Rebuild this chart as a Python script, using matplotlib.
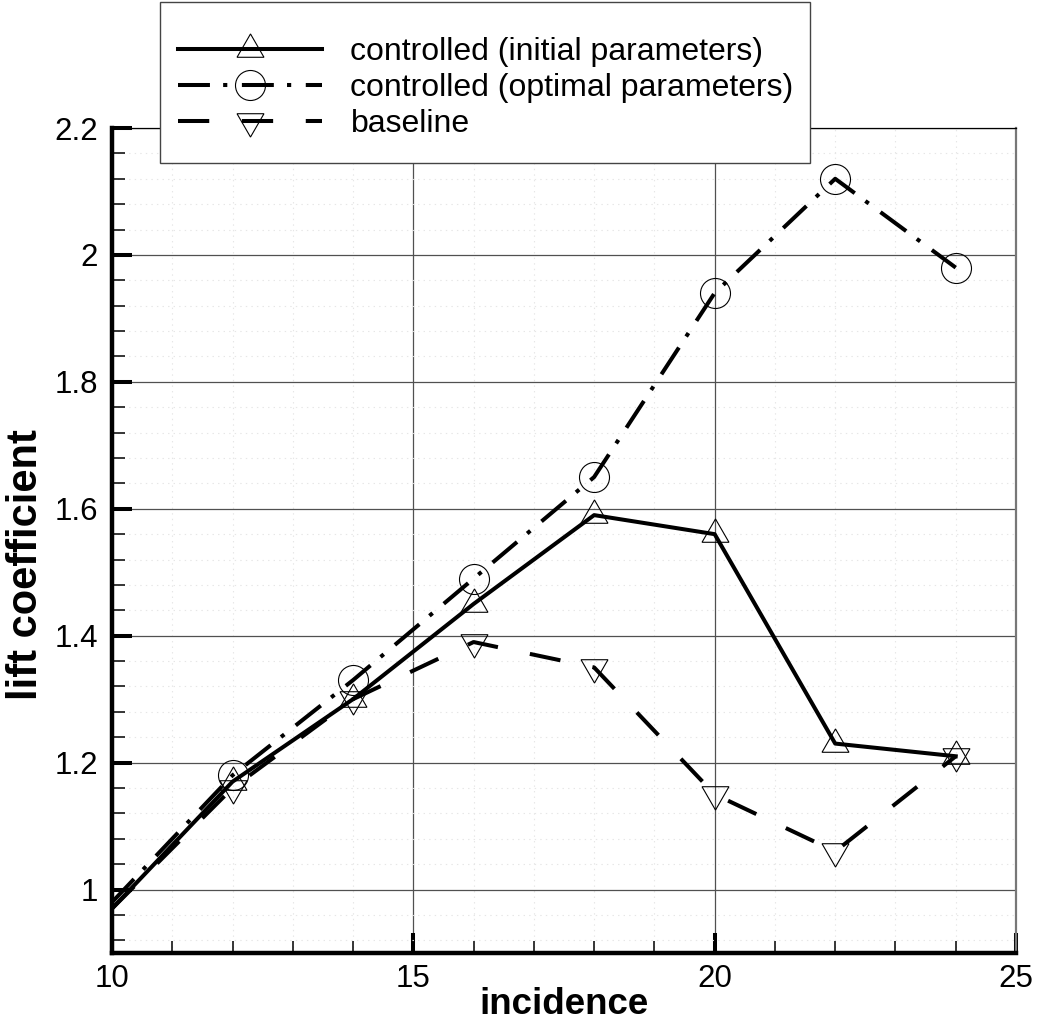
import matplotlib
matplotlib.use("Agg")
import matplotlib.pyplot as plt
from matplotlib.ticker import MultipleLocator, FuncFormatter
from matplotlib.patches import Rectangle

plt.rcParams['font.family'] = ['Liberation Sans', 'DejaVu Sans']
plt.rcParams['lines.scale_dashes'] = False

incidence = [10, 12, 14, 16, 18, 20, 22, 24]
cl_initial = [0.97, 1.17, 1.30, 1.45, 1.59, 1.56, 1.23, 1.21]
cl_optimal = [0.98, 1.18, 1.33, 1.49, 1.65, 1.94, 2.12, 1.98]
cl_baseline = [0.97, 1.16, 1.30, 1.39, 1.35, 1.15, 1.06, 1.21]
labels = ["controlled (initial parameters)",
          "controlled (optimal parameters)",
          "baseline"]

W, H = 1040, 1034
fig = plt.figure(figsize=(W / 100, H / 100), dpi=100)
ax = fig.add_axes([112 / W, 1 - 953 / H, (1016 - 112) / W, (953 - 128) / H])

lw = 2.9
mk = dict(markerfacecolor='none', markeredgecolor='black', markeredgewidth=0.8,
          markevery=slice(1, None))
ax.plot(incidence, cl_initial, color='black', lw=lw, ls='-', marker=(3, 0, 0), ms=22.4,
        label=labels[0], zorder=5, **mk)
ax.plot(incidence, cl_optimal, color='black', lw=lw, ls=(0, (23, 9.5, 3, 10.5)),
        marker='o', ms=21.6, label=labels[1], zorder=5, **mk)
ax.plot(incidence, cl_baseline, color='black', lw=lw, ls=(0, (22.5, 23.5)),
        marker=(3, 0, 180), ms=22.4, label=labels[2], zorder=5, **mk)

ax.set_xlim(10, 25)
ax.set_ylim(0.9, 2.2)
ax.xaxis.set_major_locator(MultipleLocator(5))
ax.xaxis.set_minor_locator(MultipleLocator(1))
ax.yaxis.set_major_locator(MultipleLocator(0.2))
ax.yaxis.set_minor_locator(MultipleLocator(0.04))
ax.yaxis.set_major_formatter(FuncFormatter(lambda v, p: f"{v:g}"))
ax.xaxis.set_major_formatter(FuncFormatter(lambda v, p: f"{v:g}"))

ax.grid(which='major', color='#505050', lw=0.9, ls='-')
ax.grid(which='minor', color='#e6e6e6', lw=0.8, ls=(0, (1, 3)))
ax.set_axisbelow(True)

ax.tick_params(which='major', direction='in', length=14.5, width=2.9, labelsize=22.5,
               top=False, right=False, color='black')
ax.tick_params(which='minor', direction='in', length=9, width=1.1,
               top=False, right=False, color='black')
ax.tick_params(axis='y', which='major', pad=10)
ax.tick_params(axis='x', which='major', pad=8)

ax.spines['left'].set_linewidth(3.2)
ax.spines['bottom'].set_linewidth(3.2)
ax.spines['top'].set_linewidth(0.9)
ax.spines['top'].set_color('black')
ax.spines['right'].set_linewidth(1.6)
ax.spines['right'].set_color('#777777')

fig.text(564 / W, 1 - 1004 / H, "incidence", ha='center', va='center',
         fontsize=26.5, fontweight='bold')
fig.text(26 / W, 1 - 565 / H, "lift coefficient", ha='center', va='center',
         rotation=90, fontsize=30, fontweight='bold')

# legend box frame
fig.patches.append(Rectangle((160 / W, 1 - 163 / H), (810 - 160) / W, (163 - 2) / H,
                             transform=fig.transFigure, facecolor='white',
                             edgecolor='#444444', lw=1.0, zorder=9))
leg = fig.legend(loc='upper left', bbox_to_anchor=(178 / W, 1 - 37 / H),
                 frameon=False, fontsize=23, handlelength=4.5,
                 handletextpad=0.9, labelspacing=0.19, borderpad=0,
                 borderaxespad=0, numpoints=1)
leg.set_zorder(10)

fig.savefig("out.png", dpi=100)
